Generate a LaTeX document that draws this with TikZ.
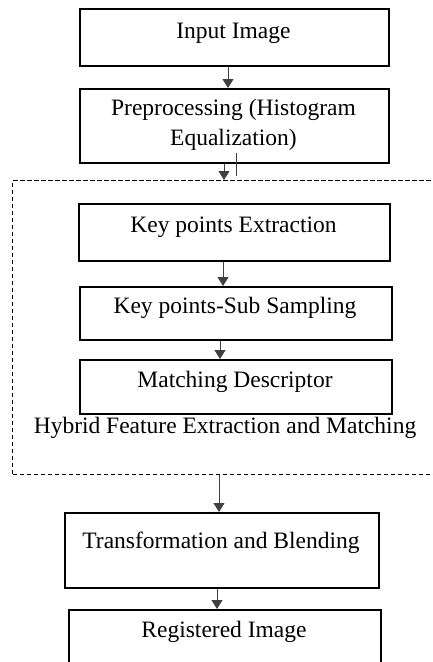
\documentclass[tikz,border=0pt]{standalone}
\usepackage{fontspec}
\setmainfont{Liberation Serif}
\usetikzlibrary{arrows.meta}
\tikzset{
  stage/.style={draw=black, line width=1.8pt, fill=none, inner sep=0pt, anchor=north west},
  lbl/.style={inner sep=0pt, align=center, font=\fontsize{23.5}{30}\selectfont},
  flow/.style={draw=black!75, line width=1pt, -{Triangle[length=9pt,width=11pt]}},
  group/.style={draw=black, line width=1.4pt, dash pattern=on 4.5pt off 2.5pt, inner sep=0pt, anchor=north west}
}
\begin{document}
\begin{tikzpicture}[x=1pt,y=-1pt]
\useasboundingbox (0,0) rectangle (432,662);
% hybrid feature stage (dashed frame)
\node[group, minimum width=440pt, minimum height=294pt] (grp) at (12,180) {};
% boxes
\node[stage, minimum width=309pt, minimum height=57pt] (b1) at (79,8) {};
\node[stage, minimum width=309pt, minimum height=74pt] (b2) at (79,88) {};
\node[stage, minimum width=311pt, minimum height=57pt] (b3) at (78,203) {};
\node[stage, minimum width=312pt, minimum height=53pt] (b4) at (79,286) {};
\node[stage, minimum width=312pt, minimum height=54pt] (b5) at (79,359) {};
\node[stage, minimum width=314pt, minimum height=75pt] (b6) at (64,512) {};
\node[stage, minimum width=312pt, minimum height=80pt] (b7) at (68,609) {};
% texts
\node[lbl] (t1) at (233.5,33) {Input Image};
\node[lbl] (t2) at (233.5,125) {Preprocessing (Histogram\\Equalization)};
\node[lbl] (t3) at (233.5,227) {Key points Extraction};
\node[lbl] (t4) at (235,308) {Key points-Sub Sampling};
\node[lbl] (t5) at (235,382) {Matching Descriptor};
\node[lbl] (t6) at (225,428) {Hybrid Feature Extraction and Matching};
\node[lbl] (t7) at (221,543) {Transformation and Blending};
\node[lbl] (t8) at (224,632) {Registered Image};
% connector columns
\coordinate (c1) at (228,0);
\coordinate (c2) at (224,0);
\coordinate (c3) at (223,0);
\coordinate (c4) at (220,0);
\coordinate (c5) at (219,0);
\coordinate (c6) at (217,0);
\draw[flow] (c1 |- b1.south) -- (c1 |- b2.north);
\draw[flow] (c2 |- b2.south) -- (c2 |- grp.north);
\draw[flow] (c3 |- b3.south) -- (c3 |- b4.north);
\draw[flow] (c4 |- b4.south) -- (c4 |- b5.north);
\draw[flow] (c5 |- grp.south) -- (c5 |- b6.north);
\draw[flow] (c6 |- b6.south) -- (c6 |- b7.north);
% short tick below the preprocessing box
\coordinate (k1) at (236,153);
\coordinate (k2) at (236,176);
\draw[black!75, line width=0.8pt] (k1) -- (k2);
\end{tikzpicture}
\end{document}
